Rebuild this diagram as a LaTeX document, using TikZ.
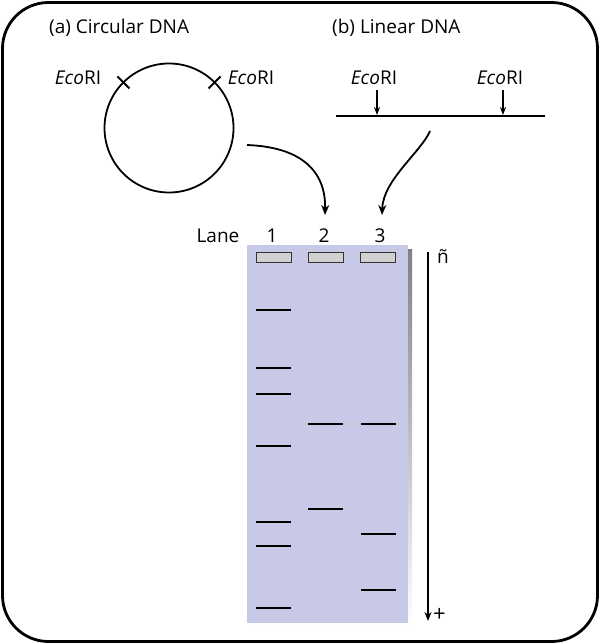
\documentclass[tikz,border=0pt]{standalone}
\usepackage{fontspec}
\setmainfont{Open Sans}
\usetikzlibrary{arrows.meta}
\definecolor{gel}{RGB}{199,201,230}
\definecolor{wellc}{RGB}{208,208,208}
\definecolor{shade}{RGB}{160,160,165}
\tikzset{
  lbl/.style={font=\fontsize{19}{22}\selectfont, inner sep=0pt},
  band/.style={line width=2.5pt},
  wellbox/.style={draw=black!80, fill=wellc, line width=1pt},
  arr/.style={line width=1.8pt, -{Stealth[length=10pt,width=8pt]}},
  dna/.style={line width=1.8pt},
}
\newcommand{\eco}{\textit{Eco}RI}
\begin{document}
\begin{tikzpicture}[x=1pt,y=-1pt]
\useasboundingbox (0,0) rectangle (600,644);
% frame
\draw[line width=2.8pt, rounded corners=46pt] (2.5,2.5) rectangle (597.5,641.5);
% titles
\node[lbl, anchor=west] (ta) at (49,28) {(a) Circular DNA};
\node[lbl, anchor=west] (tb) at (332,28) {(b) Linear DNA};
% circular DNA
\coordinate (cc) at (169,128);
\draw[dna] (cc) circle (64.5);
\draw[dna] ([shift={(225:56)}]cc) -- ([shift={(225:73)}]cc);
\draw[dna] ([shift={(315:56)}]cc) -- ([shift={(315:73)}]cc);
\node[lbl] (e1) at (78,78) {\eco};
\node[lbl] (e2) at (251,78) {\eco};
% linear DNA
\coordinate (l1) at (336,116);
\coordinate (l2) at (545,116);
\draw[dna] (l1) -- (l2);
\node[lbl] (e3) at (374,78) {\eco};
\node[lbl] (e4) at (500,78) {\eco};
\coordinate (c3) at (377,115);
\coordinate (c4) at (503,115);
\draw[line width=1.5pt, -{Stealth[length=8pt,width=6pt]}] (377,90) -- (c3);
\draw[line width=1.5pt, -{Stealth[length=8pt,width=6pt]}] (503,90) -- (c4);
% lane labels
\node[lbl] (lane) at (218,236) {Lane};
\node[lbl] (n1) at (272,236) {1};
\node[lbl] (n2) at (324,236) {2};
\node[lbl] (n3) at (380,236) {3};
% curved arrows
\coordinate (s1) at (247,145);
\coordinate (s2) at (430,131);
\coordinate (t2) at (325,215);
\coordinate (t3) at (382,215);
\draw[arr] (s1) .. controls (300,147) and (326,170) .. (t2);
\draw[arr] (s2) .. controls (421,152) and (383,180) .. (t3);
% gel
\fill[shade] (251,249) rectangle (412,627);
\fill[gel] (247,245) rectangle (408,623);
\node[wellbox, minimum width=35pt, minimum height=10pt, inner sep=0pt] (w1) at (273.5,257) {};
\node[wellbox, minimum width=35pt, minimum height=10pt, inner sep=0pt] (w2) at (325.5,257) {};
\node[wellbox, minimum width=35pt, minimum height=10pt, inner sep=0pt] (w3) at (378,257) {};
\foreach \y in {310,368,394,446,522,546,608} \draw[band] (256,\y) -- (291,\y);
\foreach \y in {424,509} \draw[band] (308,\y) -- (343,\y);
\foreach \y in {424,534,590} \draw[band] (361,\y) -- (396,\y);
% electrophoresis direction
\node[lbl, anchor=west] (minus) at (437,257) {ñ};
\node[lbl, anchor=west, font=\fontsize{22}{24}\selectfont] (plus) at (433,615) {+};
\coordinate (dtop) at (428,252);
\coordinate (dbot) at (428,621);
\draw[line width=1.6pt, -{Stealth[length=9pt,width=7pt]}] (dtop) -- (dbot);
\end{tikzpicture}
\end{document}
